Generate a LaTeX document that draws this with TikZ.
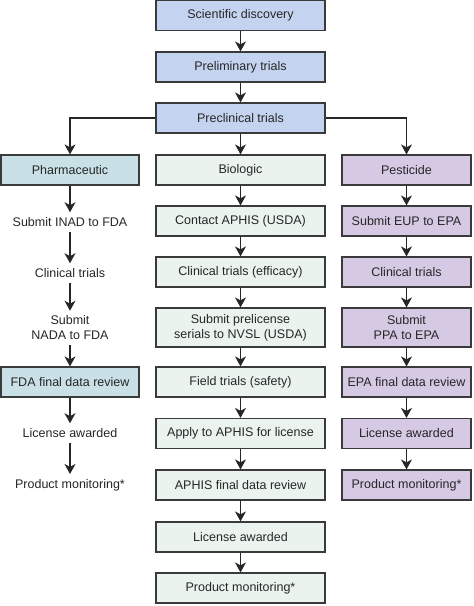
\documentclass[tikz,border=0pt]{standalone}
\usepackage{fontspec}
\setmainfont{Liberation Sans}
\usepackage{tikz}
\usetikzlibrary{arrows.meta}
\definecolor{stageblue}{RGB}{196,212,240}
\definecolor{pharmteal}{RGB}{201,225,230}
\definecolor{biogreen}{RGB}{235,243,238}
\definecolor{pestviolet}{RGB}{214,201,228}
\definecolor{edgegray}{RGB}{58,58,58}
\tikzstyle{stagebox}=[rectangle,draw=edgegray,line width=1.2pt,fill=stageblue,
                      minimum width=169pt,minimum height=30pt,inner sep=2pt,
                      align=center,text=black!85,
                      font=\fontsize{12.5}{15}\selectfont]
\tikzstyle{pharmbox}=[stagebox,fill=pharmteal,minimum width=138pt]
\tikzstyle{biobox}=[stagebox,fill=biogreen]
\tikzstyle{pestbox}=[stagebox,fill=pestviolet,minimum width=129pt]
\tikzstyle{plain}=[align=center,inner sep=5pt,text=black!85,
                   font=\fontsize{12.5}{15}\selectfont]
\tikzstyle{flow}=[draw=black!85,line width=1.2pt,
                  -{Stealth[length=10pt,width=11pt,inset=3pt]}]

\begin{document}
\begin{tikzpicture}[x=1pt,y=-1pt]
    \useasboundingbox (0,0) rectangle (474,606);
    % common trunk
    \node (disc)   at (240.5, 15.5) [stagebox]{Scientific discovery};
    \node (prelim) at (240.5, 67) [stagebox]{Preliminary trials};
    \node (precl)  at (240.5,118) [stagebox]{Preclinical trials};
    % pharmaceutic
    \node (pharm)  at (70,170) [pharmbox]{Pharmaceutic};
    \node (inad)   at (70,222) [plain]{Submit INAD to FDA};
    \node (pclin)  at (70,273) [plain]{Clinical trials};
    \node (nada)   at (70,328) [plain]{Submit\\NADA to FDA};
    \node (fdarev) at (70,382) [pharmbox]{FDA final data review};
    \node (plic)   at (70,433) [plain]{License awarded};
    \node (pmon)   at (70,485) [plain]{Product monitoring*};
    % biologic
    \node (bio)    at (240.5,170) [biobox]{Biologic};
    \node (aphis)  at (240.5,221) [biobox]{Contact APHIS (USDA)};
    \node (bclin)  at (240.5,272) [biobox]{Clinical trials (efficacy)};
    \node (nvsl)   at (240.5,327.5) [biobox,minimum height=39pt]
                   {Submit prelicense\\serials to NVSL (USDA)};
    \node (field)  at (240.5,382) [biobox]{Field trials (safety)};
    \node (apply)  at (240.5,433.5) [biobox]{Apply to APHIS for license};
    \node (aphrev) at (240.5,485) [biobox]{APHIS final data review};
    \node (blic)   at (240.5,537) [biobox]{License awarded};
    \node (bmon)   at (240.5,588) [biobox]{Product monitoring*};
    % pesticide
    \node (pest)   at (406.5,170) [pestbox]{Pesticide};
    \node (eup)    at (406.5,221) [pestbox]{Submit EUP to EPA};
    \node (eclin)  at (406.5,272) [pestbox]{Clinical trials};
    \node (ppa)    at (406.5,327.5) [pestbox,minimum height=39pt]
                   {Submit\\PPA to EPA};
    \node (eparev) at (406.5,382) [pestbox]{EPA final data review};
    \node (elic)   at (406.5,433.5) [pestbox]{License awarded};
    \node (emon)   at (406.5,485) [pestbox]{Product monitoring*};

    \draw[flow] (disc) -- (prelim);
    \draw[flow] (prelim) -- (precl);
    \draw[flow] (precl) -- (bio);
    \draw[flow] (precl.west) -| (pharm.north);
    \draw[flow] (precl.east) -| (pest.north);

    \draw[flow] (pharm) -- (inad);
    \draw[flow] (inad) -- (pclin);
    \draw[flow] (pclin) -- (nada);
    \draw[flow] (nada) -- (fdarev);
    \draw[flow] (fdarev) -- (plic);
    \draw[flow] (plic) -- (pmon);

    \draw[flow] (bio) -- (aphis);
    \draw[flow] (aphis) -- (bclin);
    \draw[flow] (bclin) -- (nvsl);
    \draw[flow] (nvsl) -- (field);
    \draw[flow] (field) -- (apply);
    \draw[flow] (apply) -- (aphrev);
    \draw[flow] (aphrev) -- (blic);
    \draw[flow] (blic) -- (bmon);

    \draw[flow] (pest) -- (eup);
    \draw[flow] (eup) -- (eclin);
    \draw[flow] (eclin) -- (ppa);
    \draw[flow] (ppa) -- (eparev);
    \draw[flow] (eparev) -- (elic);
    \draw[flow] (elic) -- (emon);
  \end{tikzpicture}
\end{document}
